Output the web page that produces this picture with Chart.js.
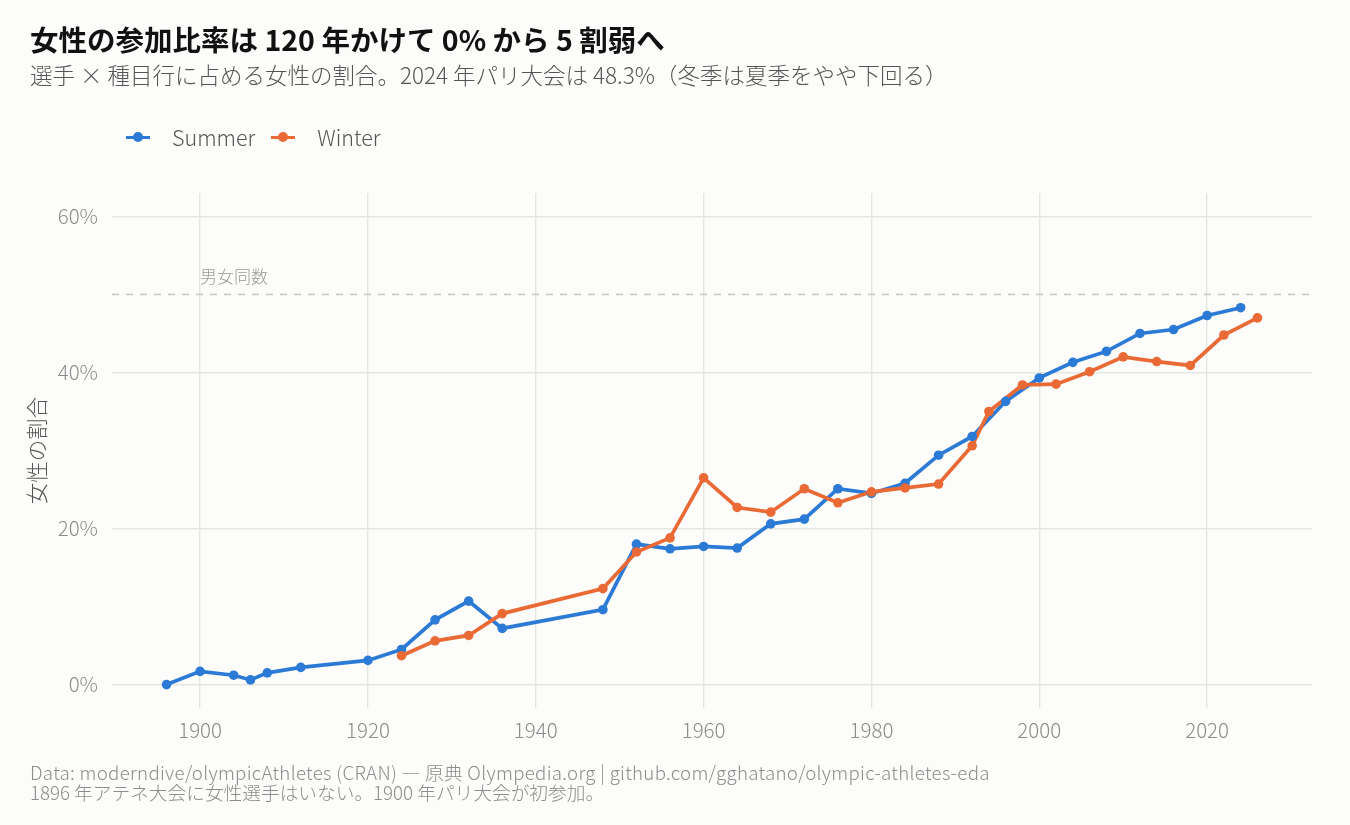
<!DOCTYPE html>
<html lang="ja">
<head>
<meta charset="utf-8">
<script src="https://cdn.jsdelivr.net/npm/chart.js@4.4.1/dist/chart.umd.min.js"></script>
<style>
  html, body { margin: 0; padding: 0; background: #FCFCFA; }
  body { width: 1350px; height: 825px; position: relative; overflow: hidden;
         font-family: "Noto Sans CJK JP", "Noto Sans", sans-serif; }
  #chart { position: absolute; left: 0; top: 0; }
  .title { position: absolute; left: 30px; top: 25px; font-size: 28.5px; line-height: 1; font-weight: 700; color: #111; white-space: nowrap; }
  .subtitle { position: absolute; left: 30px; top: 63px; font-size: 22.5px; line-height: 1; font-weight: 300; color: #555; white-space: nowrap; }
  .legend { position: absolute; left: 126px; top: 126px; font-size: 21.5px; line-height: 22px; font-weight: 300; color: #555; display: flex; }
  .legend .item { display: flex; align-items: center; margin-right: 16px; }
  .legend .key { position: relative; width: 24px; height: 22px; margin-right: 22px; }
  .legend .key .ln { position: absolute; left: 0; top: 9.5px; width: 24px; height: 3.6px; }
  .legend .key .pt { position: absolute; left: 7px; top: 6.3px; width: 10px; height: 10px; border-radius: 50%; }
  .caption { position: absolute; left: 30px; top: 762px; font-size: 18.7px; line-height: 20px; font-weight: 300; color: #8C8C8C; white-space: nowrap; }
  .caption .src { letter-spacing: 0.3px; }
</style>
</head>
<body>
<canvas id="chart" width="1350" height="825"></canvas>
<div class="title">女性の参加比率は 120 年かけて 0% から 5 割弱へ</div>
<div class="subtitle">選手 × 種目行に占める女性の割合。2024 年パリ大会は 48.3%（冬季は夏季をやや下回る）</div>
<div class="legend" id="legend"></div>
<div class="caption"><span class="src">Data: moderndive/olympicAthletes (CRAN) — 原典 Olympedia.org | github.com/gghatano/olympic-athletes-eda</span><br>1896 年アテネ大会に女性選手はいない。1900 年パリ大会が初参加。</div>

<script>
// Data (share of women, %)
const summerYears = [1896, 1900, 1904, 1906, 1908, 1912, 1920, 1924, 1928, 1932, 1936, 1948, 1952, 1956, 1960, 1964,
  1968, 1972, 1976, 1980, 1984, 1988, 1992, 1996, 2000, 2004, 2008, 2012, 2016, 2020, 2024];
const summerShare = [0.0, 1.7, 1.2, 0.6, 1.5, 2.2, 3.1, 4.5, 8.3, 10.7, 7.2, 9.6, 18.0, 17.4, 17.7, 17.5,
  20.6, 21.2, 25.1, 24.5, 25.8, 29.4, 31.8, 36.3, 39.3, 41.3, 42.7, 45.0, 45.5, 47.3, 48.3];

const winterYears = [1924, 1928, 1932, 1936, 1948, 1952, 1956, 1960, 1964, 1968, 1972, 1976, 1980, 1984, 1988,
  1992, 1994, 1998, 2002, 2006, 2010, 2014, 2018, 2022, 2026];
const winterShare = [3.7, 5.6, 6.3, 9.1, 12.3, 17.0, 18.8, 26.5, 22.7, 22.1, 25.1, 23.3, 24.7, 25.2, 25.7,
  30.6, 35.0, 38.4, 38.5, 40.1, 42.0, 41.4, 40.9, 44.8, 47.0];

const xTicks = [1900, 1920, 1940, 1960, 1980, 2000, 2020];
const yTicks = [0, 20, 40, 60];
const parityLevel = 50;

const seriesNames = ['Summer', 'Winter'];
const seriesColors = ['#2B7AD6', '#EA6A36'];

function toPoints(years, values) {
  return years.map((yr, i) => ({ x: yr, y: values[i] }));
}

// dashed parity line + label
const parityLine = {
  id: 'parityLine',
  beforeDatasetsDraw(chart) {
    const { ctx, chartArea, scales } = chart;
    const y = scales.y.getPixelForValue(parityLevel);
    ctx.save();
    ctx.strokeStyle = '#C9C9C2';
    ctx.lineWidth = 1.6;
    ctx.setLineDash([7, 7]);
    ctx.beginPath();
    ctx.moveTo(chartArea.left, y);
    ctx.lineTo(chartArea.right, y);
    ctx.stroke();
    ctx.setLineDash([]);
    ctx.fillStyle = '#9A9A9A';
    ctx.font = '300 17px "Noto Sans CJK JP"';
    ctx.textAlign = 'left';
    ctx.textBaseline = 'alphabetic';
    ctx.fillText('男女同数', scales.x.getPixelForValue(1900), y - 11);
    ctx.restore();
  }
};

const lineSets = [
  toPoints(summerYears, summerShare),
  toPoints(winterYears, winterShare)
];

const datasets = [];
lineSets.forEach((pts, i) => {
  datasets.push({
    label: seriesNames[i],
    data: pts,
    borderColor: seriesColors[i],
    borderWidth: 3.7,
    pointRadius: 0,
    tension: 0,
    order: 3 - i
  });
});
lineSets.forEach((pts, i) => {
  datasets.push({
    label: seriesNames[i] + ' points',
    data: pts,
    showLine: false,
    pointRadius: 4.8,
    pointBorderWidth: 0,
    pointBackgroundColor: seriesColors[i],
    order: 1 - i
  });
});

const tickFont = { family: 'Noto Sans CJK JP', size: 20.5, weight: 300 };

new Chart(document.getElementById('chart'), {
  type: 'line',
  data: { datasets: datasets },
  plugins: [parityLine],
  options: {
    responsive: false,
    animation: false,
    devicePixelRatio: 1,
    layout: { padding: { left: 0, top: 193, right: 38, bottom: 67 } },
    plugins: {
      legend: { display: false },
      tooltip: { enabled: false }
    },
    scales: {
      x: {
        type: 'linear',
        min: 1889.5,
        max: 2032.5,
        afterBuildTicks: scale => { scale.ticks = xTicks.map(v => ({ value: v })); },
        afterFit: scale => { scale.height = 50; },
        grid: { color: '#E6E6E1', lineWidth: 1.4, drawTicks: false },
        border: { display: false },
        ticks: { color: '#8C8C8C', font: tickFont, padding: 10,
                 maxRotation: 0, callback: v => String(v) }
      },
      y: {
        min: -3,
        max: 63,
        afterBuildTicks: scale => { scale.ticks = yTicks.map(v => ({ value: v })); },
        afterFit: scale => { scale.width = 112; },
        grid: { color: '#E6E6E1', lineWidth: 1.4, drawTicks: false },
        border: { display: false },
        ticks: { color: '#8C8C8C', font: tickFont, padding: 14,
                 callback: v => v + '%' },
        title: { display: true, text: '女性の割合', color: '#555',
                 font: { family: 'Noto Sans CJK JP', size: 21.5, weight: 300 }, padding: { top: 24, bottom: 0 } }
      }
    }
  }
});

// legend
const legendEl = document.getElementById('legend');
seriesNames.forEach((name, i) => {
  const item = document.createElement('div');
  item.className = 'item';
  item.innerHTML = '<span class="key"><span class="ln" style="background:' + seriesColors[i] + '"></span>' +
    '<span class="pt" style="background:' + seriesColors[i] + '"></span></span>' + name;
  legendEl.appendChild(item);
});
</script>
</body>
</html>
